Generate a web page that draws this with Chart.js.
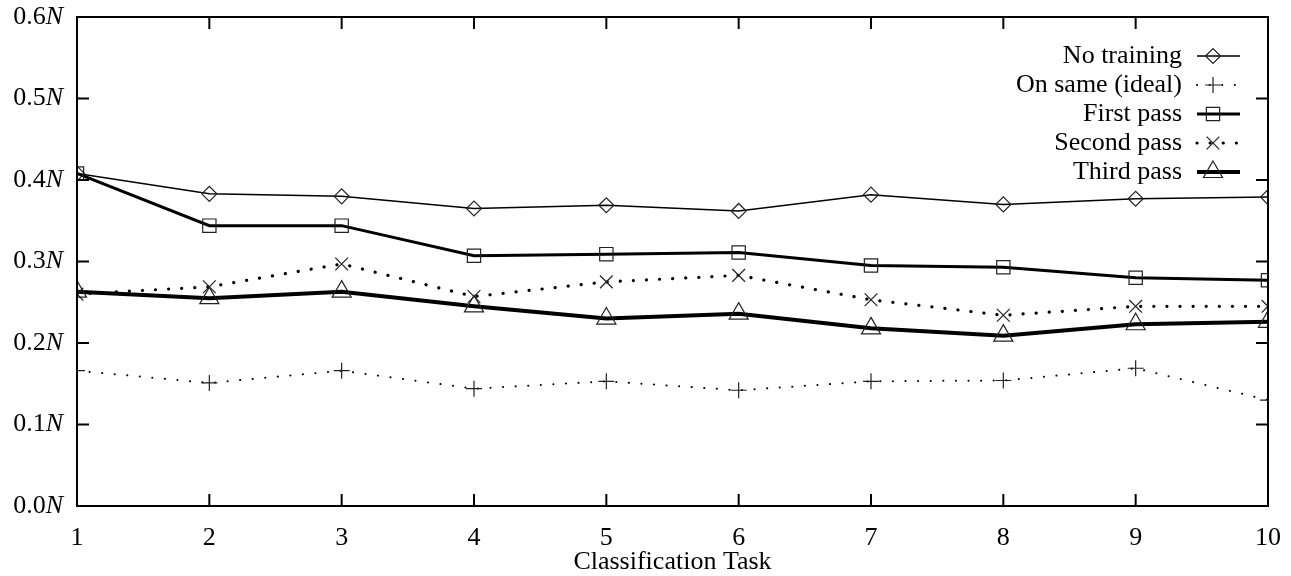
<!DOCTYPE html>
<html>
<head>
<meta charset="utf-8">
<script src="https://cdn.jsdelivr.net/npm/chart.js@4/dist/chart.umd.min.js"></script>
<style>
  html, body { margin: 0; padding: 0; background: #fff; }
  #graf { width: 1291px; height: 576px; }
</style>
</head>
<body>
<div id="graf"><canvas id="grafico"></canvas></div>
<script>
// Datos
const tareas = [1, 2, 3, 4, 5, 6, 7, 8, 9, 10];
const ticksY = [0, 0.1, 0.2, 0.3, 0.4, 0.5, 0.6];
const sinEntrenamiento = [0.408, 0.383, 0.380, 0.365, 0.369, 0.362, 0.382, 0.370, 0.377, 0.379];
const mismoIdeal = [0.166, 0.151, 0.166, 0.144, 0.153, 0.142, 0.153, 0.154, 0.169, 0.130];
const primeraPasada = [0.408, 0.344, 0.344, 0.307, 0.309, 0.311, 0.295, 0.293, 0.280, 0.277];
const segundaPasada = [0.260, 0.269, 0.297, 0.257, 0.275, 0.283, 0.253, 0.234, 0.245, 0.245];
const terceraPasada = [0.263, 0.255, 0.263, 0.245, 0.230, 0.236, 0.218, 0.209, 0.223, 0.226];

const FUENTE = '"Liberation Serif", "DejaVu Serif", serif';
const TAM = 26;

const puntos = vals => tareas.map((t, i) => ({ x: t, y: vals[i] }));

function serie(label, vals, ancho, dash, estilo, radio) {
    return {
        label: label,
        data: puntos(vals),
        borderColor: '#000',
        borderWidth: ancho,
        borderDash: dash,
        borderCapStyle: dash.length ? 'round' : 'butt',
        tension: 0,
        fill: false,
        pointStyle: estilo,
        pointRadius: radio,
        pointHoverRadius: radio,
        pointBorderColor: '#222',
        pointBorderWidth: 1.2,
        pointBackgroundColor: 'rgba(0,0,0,0)'
    };
}

const datasets = [
    serie('No training', sinEntrenamiento, 1.5, [], 'rectRot', 7.5),
    serie('On same (ideal)', mismoIdeal, 2, [0.1, 12.5], 'cross', 8),
    serie('First pass', primeraPasada, 3, [], 'rect', 9.4),
    serie('Second pass', segundaPasada, 3.2, [0.1, 13], 'crossRot', 9),
    serie('Third pass', terceraPasada, 4, [], 'triangle', 11)
];

// Marco con marcas hacia dentro y etiquetas del eje Y con N en cursiva
const marcoPlugin = {
    id: 'marco',
    afterDraw(chart) {
        const { ctx, chartArea: a, scales: { x, y } } = chart;
        ctx.save();
        ctx.strokeStyle = '#000';
        ctx.lineWidth = 2;
        ctx.strokeRect(a.left, a.top, a.right - a.left, a.bottom - a.top);
        const linea = (x1, y1, x2, y2) => { ctx.beginPath(); ctx.moveTo(x1, y1); ctx.lineTo(x2, y2); ctx.stroke(); };
        tareas.forEach(t => {
            const px = x.getPixelForValue(t);
            linea(px, a.bottom, px, a.bottom - 12);
            linea(px, a.top, px, a.top + 12);
        });
        ctx.fillStyle = '#000';
        ctx.textBaseline = 'middle';
        ticksY.forEach(v => {
            const py = y.getPixelForValue(v);
            linea(a.left, py, a.left + 12, py);
            linea(a.right, py, a.right - 12, py);
            ctx.font = `italic ${TAM}px ${FUENTE}`;
            const wN = ctx.measureText('N').width;
            const xd = a.left - 14;
            ctx.textAlign = 'right';
            ctx.fillText('N', xd, py);
            ctx.font = `${TAM}px ${FUENTE}`;
            ctx.fillText(v.toFixed(1), xd - wN, py);
        });
        ctx.restore();
    }
};

// Leyenda al estilo gnuplot: texto alineado a la derecha y muestra de línea
const leyendaPlugin = {
    id: 'leyendaGnuplot',
    afterDatasetsDraw(chart) {
        const { ctx, chartArea: a } = chart;
        ctx.save();
        chart.data.datasets.forEach((ds, i) => {
            const yy = a.top + 39 + i * 29;
            ctx.font = `${TAM}px ${FUENTE}`;
            ctx.fillStyle = '#000';
            ctx.textAlign = 'right';
            ctx.textBaseline = 'middle';
            ctx.fillText(ds.label, a.right - 86, yy);
            ctx.strokeStyle = '#000';
            ctx.lineWidth = ds.borderWidth;
            ctx.lineCap = ds.borderCapStyle;
            ctx.setLineDash(ds.borderDash);
            ctx.beginPath();
            ctx.moveTo(a.right - 71, yy);
            ctx.lineTo(a.right - 28, yy);
            ctx.stroke();
            ctx.setLineDash([]);
            ctx.lineCap = 'butt';
            ctx.strokeStyle = ds.pointBorderColor;
            ctx.fillStyle = ds.pointBackgroundColor;
            ctx.lineWidth = ds.pointBorderWidth;
            Chart.helpers.drawPoint(ctx, { pointStyle: ds.pointStyle, radius: ds.pointRadius, rotation: 0, borderWidth: ds.pointBorderWidth }, a.right - 55, yy);
        });
        ctx.restore();
    }
};

new Chart(document.getElementById('grafico'), {
    type: 'line',
    data: { datasets: datasets },
    plugins: [marcoPlugin, leyendaPlugin],
    options: {
        responsive: true,
        maintainAspectRatio: false,
        animation: false,
        layout: { padding: { left: 0, top: 17, right: 23, bottom: 0 } },
        plugins: {
            legend: { display: false },
            tooltip: { enabled: false }
        },
        scales: {
            x: {
                type: 'linear',
                min: 1,
                max: 10,
                afterFit: s => { s.height = 70; s.paddingLeft = 0; s.paddingRight = 0; },
                afterBuildTicks: s => { s.ticks = tareas.map(v => ({ value: v })); },
                grid: { display: false, drawTicks: false },
                border: { display: false },
                ticks: {
                    autoSkip: false,
                    maxRotation: 0,
                    padding: 17,
                    color: '#000',
                    font: { family: FUENTE, size: TAM }
                },
                title: {
                    display: true,
                    text: 'Classification Task',
                    color: '#000',
                    padding: { top: 0, bottom: -2 },
                    font: { family: FUENTE, size: TAM }
                }
            },
            y: {
                min: 0,
                max: 0.6,
                afterFit: s => { s.width = 77; s.paddingTop = 0; s.paddingBottom = 0; },
                afterBuildTicks: s => { s.ticks = ticksY.map(v => ({ value: v })); },
                grid: { display: false, drawTicks: false },
                border: { display: false },
                ticks: { display: false }
            }
        }
    }
});
</script>
</body>
</html>
